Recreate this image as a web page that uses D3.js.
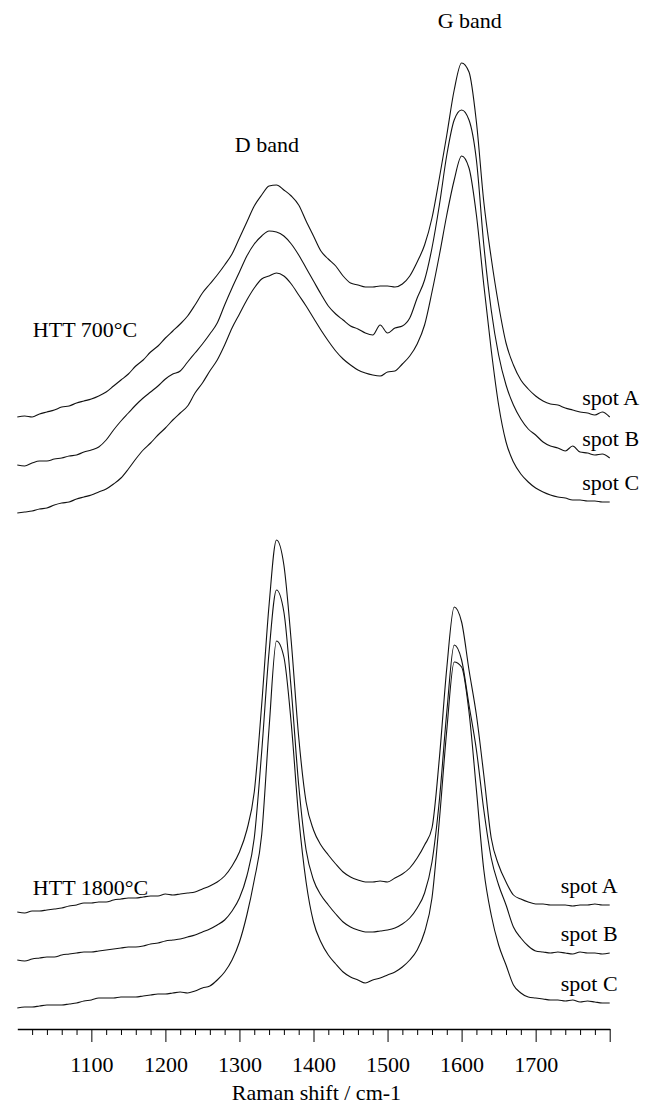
<!DOCTYPE html>
<html>
<head>
<meta charset="utf-8">
<script src="https://cdn.jsdelivr.net/npm/d3@7"></script>
<style>
  body { margin: 0; background: #fff; }
  svg { display: block; font-family: 'Liberation Serif', 'Times New Roman', serif; }
  .curve { fill: none; stroke: #111; stroke-width: 1.1; stroke-linejoin: round; }
  .label { font-size: 22px; fill: #000; }
</style>
</head>
<body>
<svg width="658" height="1106"></svg>
<script>
// Raman shift grid (cm-1), one value every 10 cm-1
const wavenumbers = d3.range(1000, 1801, 10);

// intensities (a.u., spectra already offset as plotted)
const htt700A = [
  612, 613, 612, 615, 617, 619, 622, 623, 626, 628,
  630, 633, 637, 643, 649, 655, 663, 669, 677, 683,
  691, 698, 705, 713, 724, 736, 745, 754, 764, 775,
  791, 807, 823, 834, 843, 844, 839, 833, 824, 808,
  793, 778, 770, 763, 753, 746, 744, 742, 742, 743,
  743, 742, 745, 753, 767, 784, 811, 851, 894, 939,
  966, 957, 907, 827, 771, 724, 686, 664, 649, 640,
  633, 628, 625, 624, 621, 619, 617, 616, 614, 617,
  612];
const htt700B = [
  564, 563, 566, 568, 568, 570, 571, 573, 574, 577,
  579, 582, 589, 599, 608, 616, 624, 631, 637, 643,
  650, 655, 658, 667, 676, 685, 695, 706, 724, 741,
  757, 773, 785, 793, 798, 797, 793, 785, 774, 761,
  748, 735, 723, 715, 709, 703, 700, 696, 694, 704,
  696, 701, 703, 711, 731, 749, 781, 824, 874, 909,
  919, 909, 869, 784, 719, 674, 644, 624, 610, 600,
  594, 587, 583, 581, 578, 583, 577, 576, 574, 575,
  571];
const htt700C = [
  516, 517, 518, 520, 521, 524, 526, 527, 530, 532,
  534, 537, 540, 545, 551, 560, 570, 579, 586, 594,
  601, 609, 616, 623, 636, 646, 658, 669, 684, 701,
  715, 729, 741, 750, 753, 756, 753, 745, 734, 723,
  711, 699, 688, 678, 670, 664, 659, 656, 654, 653,
  657, 658, 665, 673, 685, 704, 737, 774, 814, 849,
  873, 861, 814, 744, 679, 624, 587, 567, 555, 547,
  541, 537, 534, 532, 531, 529, 529, 528, 528, 527,
  527];
const htt1800A = [
  117, 116, 118, 118, 119, 120, 121, 123, 124, 126,
  126, 127, 127, 129, 130, 131, 131, 132, 133, 133,
  135, 134, 135, 136, 137, 140, 143, 147, 153, 163,
  177, 199, 237, 324, 424, 489, 464, 387, 292, 227,
  199, 184, 174, 165, 157, 152, 149, 147, 147, 148,
  147, 151, 155, 161, 171, 184, 201, 271, 361, 422,
  407, 359, 314, 254, 191, 164, 147, 134, 130, 127,
  125, 125, 124, 124, 124, 123, 124, 124, 125, 124,
  124];
const htt1800B = [
  69, 68, 70, 71, 72, 72, 74, 75, 76, 77,
  77, 78, 79, 80, 81, 82, 82, 83, 85, 86,
  88, 89, 90, 92, 94, 97, 100, 104, 109, 118,
  131, 153, 191, 277, 377, 439, 417, 339, 244, 179,
  149, 134, 124, 115, 107, 102, 99, 97, 97, 98,
  99, 101, 105, 111, 121, 136, 167, 229, 317, 384,
  369, 324, 279, 219, 171, 144, 124, 102, 91, 83,
  78, 77, 76, 77, 76, 75, 77, 76, 76, 75,
  76];
const htt1800C = [
  21, 22, 22, 23, 24, 24, 24, 25, 26, 28,
  29, 31, 31, 31, 32, 32, 32, 33, 34, 35,
  35, 36, 37, 36, 38, 41, 43, 49, 57, 69,
  87, 114, 149, 194, 301, 388, 372, 305, 212, 147,
  107, 87, 74, 65, 57, 52, 49, 46, 49, 51,
  54, 57, 62, 69, 79, 97, 131, 209, 299, 367,
  362, 317, 239, 159, 114, 84, 64, 44, 36, 32,
  31, 30, 29, 29, 28, 29, 27, 28, 27, 26,
  26];

const spotNames = ['spot A', 'spot B', 'spot C'];
const tickLabels = [1100, 1200, 1300, 1400, 1500, 1600, 1700];

const panels = [
  { title: 'HTT 700°C', series: [htt700A, htt700B, htt700C], titleAt: [1021, 692], spotX: 1763 },
  { title: 'HTT 1800°C', series: [htt1800A, htt1800B, htt1800C], titleAt: [1021, 134], spotX: 1734 },
];
const bandLabels = [
  { text: 'D band', at: [1337, 877] },
  { text: 'G band', at: [1611, 1001] },
];

const x = d3.scaleLinear().domain([1000, 1800]).range([17.3, 609.7]);
const y = d3.scaleLinear().domain([0, 1000]).range([1029, 29]);

const svg = d3.select('svg');

const line = d3
  .line()
  .curve(d3.curveMonotoneX)
  .x((d, i) => x(wavenumbers[i]))
  .y((d) => y(d));

const curves = panels.flatMap((p) =>
  p.series.map((values, i) => ({ values, name: spotNames[i], spotX: p.spotX }))
);

svg
  .selectAll('.curve')
  .data(curves)
  .enter()
  .append('path')
  .classed('curve', true)
  .attr('d', (d) => line(d.values));

// spot labels sit just above the right end of each curve
svg
  .selectAll('.spot')
  .data(curves)
  .enter()
  .append('text')
  .classed('label', true)
  .attr('x', (d) => x(d.spotX))
  .attr('y', (d) => y(d.values[d.values.length - 1] + 12))
  .text((d) => d.name);

svg
  .selectAll('.panel-title')
  .data(panels)
  .enter()
  .append('text')
  .classed('label', true)
  .attr('x', (d) => x(d.titleAt[0]))
  .attr('y', (d) => y(d.titleAt[1]))
  .text((d) => d.title);

svg
  .selectAll('.band')
  .data(bandLabels)
  .enter()
  .append('text')
  .classed('label', true)
  .attr('text-anchor', 'middle')
  .attr('x', (d) => x(d.at[0]))
  .attr('y', (d) => y(d.at[1]))
  .text((d) => d.text);

// x axis: minor ticks every 20, major every 100
const axis = d3
  .axisBottom(x)
  .tickValues(d3.range(1020, 1801, 20))
  .tickSizeInner(6)
  .tickSizeOuter(0)
  .tickFormat((d) => (tickLabels.includes(d) ? d : ''));

const gAxis = svg
  .append('g')
  .attr('transform', `translate(0, ${y(0)})`)
  .call(axis)
  .attr('font-family', null)
  .attr('font-size', 22);

gAxis.select('.domain').attr('stroke', '#000').attr('stroke-width', 1.4);
gAxis
  .selectAll('.tick line')
  .attr('stroke', '#000')
  .attr('y2', (d) => (d % 100 === 0 ? 13 : 6));
gAxis.selectAll('.tick text').attr('y', 27).attr('fill', '#000');

svg
  .append('text')
  .classed('label', true)
  .attr('text-anchor', 'middle')
  .attr('x', x(1404))
  .attr('y', y(0) + 71)
  .text('Raman shift / cm-1');
</script>
</body>
</html>
